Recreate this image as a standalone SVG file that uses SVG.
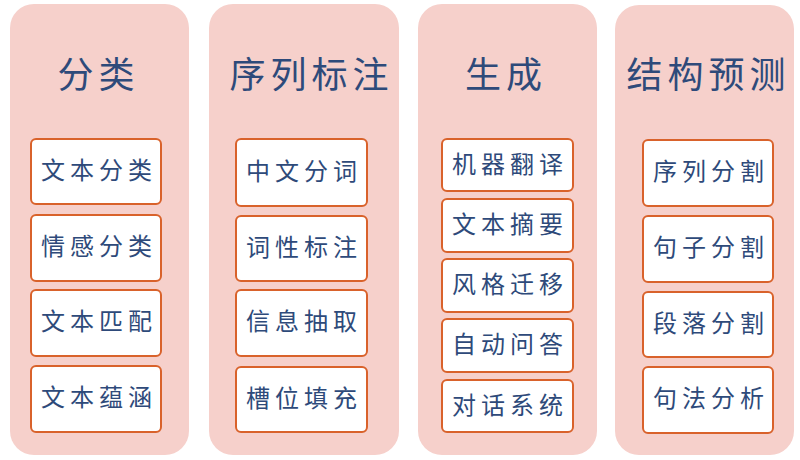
<svg xmlns="http://www.w3.org/2000/svg" width="800" height="460" viewBox="0 0 800 460">
<style>
.col{fill:#F6D0CB;stroke:none}
.box{fill:#FFFFFF;stroke:#D9622B;stroke-width:2}
.title{font-family:"Noto Sans CJK SC","Noto Sans CJK JP",sans-serif;font-size:36px;fill:#2E4A7A;text-anchor:middle;dominant-baseline:central;letter-spacing:5px}
.lbl{font-family:"Noto Sans CJK SC","Noto Sans CJK JP",sans-serif;font-size:24px;fill:#2E4A7A;text-anchor:middle;dominant-baseline:central;letter-spacing:5px}
</style>
<rect width="800" height="460" fill="#FFFFFF"/>
<g id="col-classify">
<rect class="col" x="10" y="4" width="179" height="451" rx="24"/>
<text class="title" x="98.5" y="72">分类</text>
</g>
<g id="col-seq">
<rect class="col" x="209" y="4" width="190" height="451" rx="24"/>
<text class="title" x="311.5" y="72">序列标注</text>
</g>
<g id="col-gen">
<rect class="col" x="418" y="4" width="179" height="451" rx="24"/>
<text class="title" x="506" y="72">生成</text>
</g>
<g id="col-struct">
<rect class="col" x="615" y="5" width="179" height="450" rx="24"/>
<text class="title" x="708.5" y="72">结构预测</text>
</g>
<g id="n-wbfl"><rect class="box" x="31" y="139" width="130" height="65" rx="5"/><text class="lbl" x="99" y="168">文本分类</text></g>
<g id="n-qgfl"><rect class="box" x="31" y="215" width="130" height="66" rx="5"/><text class="lbl" x="99" y="244.5">情感分类</text></g>
<g id="n-wbpp"><rect class="box" x="31" y="290" width="130" height="66" rx="5"/><text class="lbl" x="99" y="319.5">文本匹配</text></g>
<g id="n-wbyh"><rect class="box" x="31" y="366" width="130" height="66" rx="5"/><text class="lbl" x="99" y="395.5">文本蕴涵</text></g>
<g id="n-zwfc"><rect class="box" x="236" y="139" width="131" height="67" rx="5"/><text class="lbl" x="304" y="169">中文分词</text></g>
<g id="n-cxbz"><rect class="box" x="236" y="216" width="131" height="65" rx="5"/><text class="lbl" x="304" y="245">词性标注</text></g>
<g id="n-xxcq"><rect class="box" x="236" y="290" width="131" height="66" rx="5"/><text class="lbl" x="304" y="319.5">信息抽取</text></g>
<g id="n-cwtc"><rect class="box" x="236" y="367" width="131" height="65" rx="5"/><text class="lbl" x="304" y="396">槽位填充</text></g>
<g id="n-jqfy"><rect class="box" x="442" y="139" width="131" height="52" rx="5"/><text class="lbl" x="510" y="162">机器翻译</text></g>
<g id="n-wbzy"><rect class="box" x="442" y="199" width="131" height="53" rx="5"/><text class="lbl" x="510" y="222.5">文本摘要</text></g>
<g id="n-fgqy"><rect class="box" x="442" y="259" width="131" height="53" rx="5"/><text class="lbl" x="510" y="282.5">风格迁移</text></g>
<g id="n-zdwd"><rect class="box" x="442" y="319" width="131" height="53" rx="5"/><text class="lbl" x="510" y="342.5">自动问答</text></g>
<g id="n-dhxt"><rect class="box" x="442" y="380" width="131" height="52" rx="5"/><text class="lbl" x="510" y="403">对话系统</text></g>
<g id="n-xlfg"><rect class="box" x="643" y="140" width="130" height="66" rx="5"/><text class="lbl" x="711" y="169.5">序列分割</text></g>
<g id="n-jzfg"><rect class="box" x="643" y="216" width="130" height="66" rx="5"/><text class="lbl" x="711" y="245.5">句子分割</text></g>
<g id="n-dlfg"><rect class="box" x="643" y="292" width="130" height="65" rx="5"/><text class="lbl" x="711" y="321">段落分割</text></g>
<g id="n-jffx"><rect class="box" x="643" y="367" width="130" height="66" rx="5"/><text class="lbl" x="711" y="396.5">句法分析</text></g>
<g id="connectors"></g>
</svg>
